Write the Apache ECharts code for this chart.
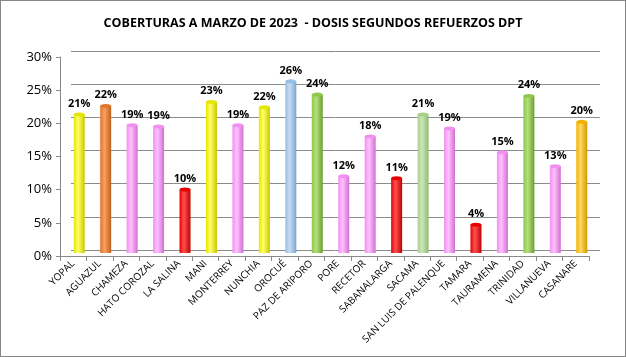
<!DOCTYPE html>
<html><head><meta charset="utf-8">
<script src="https://cdn.jsdelivr.net/npm/echarts@6/dist/echarts.min.js"></script>
<style>html,body{margin:0;padding:0;background:#fff}#c{width:626px;height:357px;box-sizing:border-box;border:1px solid #868686}</style>
</head><body><div id="c"></div>
<script>
const categories = ["YOPAL","AGUAZUL","CHAMEZA","HATO COROZAL","LA SALINA","MANI","MONTERREY","NUNCHIA","OROCUÉ","PAZ DE ARIPORO","PORE","RECETOR","SABANALARGA","SACAMA","SAN LUIS DE PALENQUE","TAMARA","TAURAMENA","TRINIDAD","VILLANUEVA","CASANARE"];
const values = [0.209,0.222,0.193,0.191,0.096,0.228,0.193,0.220,0.259,0.239,0.116,0.176,0.113,0.209,0.188,0.043,0.152,0.237,0.131,0.198];
const colorKeys = ["yellow","orange","pink","pink","red","yellow","pink","yellow","blue","green","pink","pink","red","lgreen","pink","red","pink","green","pink","gold"];
const yTicks = [0,0.05,0.10,0.15,0.20,0.25,0.30];
const title = "COBERTURAS A MARZO DE 2023  - DOSIS SEGUNDOS REFUERZOS DPT";

const palette = {
  yellow:["#c8c800","#ffff66","#e6e600"],
  orange:["#c0601c","#f7a060","#e0762c"],
  pink:["#d070d0","#ffc0ff","#f090f0"],
  red:["#c00000","#ff5050","#e80000"],
  blue:["#7aa6d0","#c6dcf2","#98bee4"],
  green:["#6aa02c","#b4e07c","#8cc84a"],
  lgreen:["#8cba70","#cce6b8","#a8d08c"],
  gold:["#d09a00","#ffd860","#f0b400"]
};
function grad(k){const p=palette[k];return new echarts.graphic.LinearGradient(0,0,1,0,[{offset:0,color:p[2]},{offset:0.4,color:p[1]},{offset:1,color:p[0]}]);}

const chart = echarts.init(document.getElementById('c'), null, {renderer:'canvas'});
const font = "Open Sans";
chart.setOption({
  animation:false,
  title:{text:title,left:'center',top:11,textStyle:{fontFamily:font,fontSize:12.5,fontWeight:'bold',color:'#000'}},
  grid:[
    {left:59,right:36,top:56,bottom:100},
    {left:70,right:25,top:50,bottom:106},
    {left:65,right:30,top:53,bottom:103}
  ],
  xAxis:[
    {gridIndex:0,type:'category',data:categories,boundaryGap:true,
      axisLine:{lineStyle:{color:'#898989'}},axisTick:{show:true,length:5,lineStyle:{color:'#898989'}},
      axisLabel:{rotate:45,fontFamily:font,fontSize:10,color:'#000',interval:0,margin:6}},
    {gridIndex:1,type:'category',data:categories,show:false},
    {gridIndex:2,type:'category',data:categories,show:false}
  ],
  yAxis:[
    {gridIndex:0,type:'value',min:0,max:0.3,interval:0.05,
      axisLine:{show:true,lineStyle:{color:'#898989'}},axisTick:{show:true,length:4,lineStyle:{color:'#898989'}},
      splitLine:{show:false},
      axisLabel:{fontFamily:font,fontSize:13,color:'#000',margin:8,formatter:v=>Math.round(v*100)+'%'}},
    {gridIndex:1,type:'value',min:0,max:0.3,interval:0.05,axisLabel:{show:false},axisLine:{show:false},axisTick:{show:false},
      splitLine:{show:true,lineStyle:{color:'#8c8c8c',width:1}}},
    {gridIndex:2,type:'value',min:0,max:0.3,interval:0.05,show:false,splitLine:{show:false}}
  ],
  series:[
    {type:'bar',xAxisIndex:2,yAxisIndex:2,barWidth:11,
      data:values.map((v,i)=>({value:v,itemStyle:{color:grad(colorKeys[i])}})),
      label:{show:true,position:'top',distance:5,fontFamily:font,fontSize:11,fontWeight:'bold',color:'#000',
        formatter:p=>Math.round(p.value*100)+'%'},z:3},
    {type:'pictorialBar',xAxisIndex:2,yAxisIndex:2,symbol:'circle',symbolSize:[11,4],symbolPosition:'end',symbolOffset:[0,'-50%'],
      data:values.map((v,i)=>({value:v,itemStyle:{color:palette[colorKeys[i]][2],borderColor:palette[colorKeys[i]][0],borderWidth:0.5}})),z:4,silent:true}
  ]
});
</script></body></html>
